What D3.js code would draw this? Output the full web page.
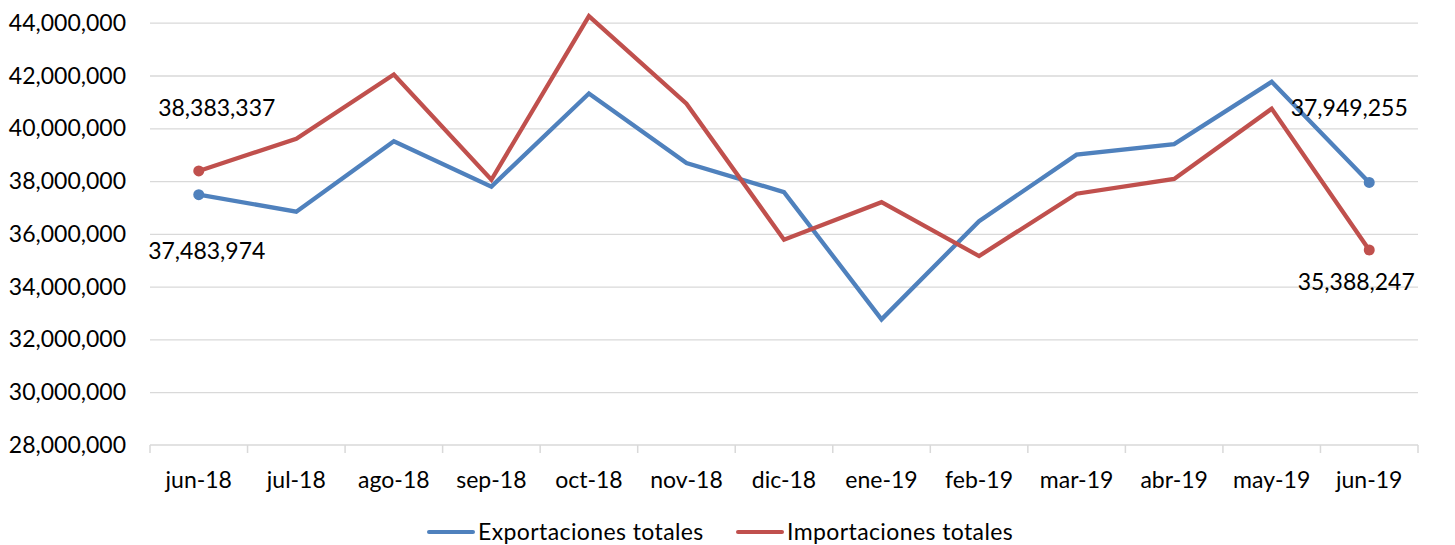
<!DOCTYPE html>
<html lang="es">
<head>
    <meta charset="utf-8">
    <title>Exportaciones e importaciones totales</title>
    <style>
        body { margin: 0; background: #fff; }
        svg text { font-family: Lato, "Open Sans", sans-serif; fill: #000; }
        .grid line { stroke: #d9d9d9; stroke-width: 1.3; }
        .grid .domain { display: none; }
    </style>
    <script src="https://d3js.org/d3.v7.min.js"></script>
</head>
<body>
    <svg></svg>
    <script>
        // datos
        var meses = ["jun-18", "jul-18", "ago-18", "sep-18", "oct-18", "nov-18", "dic-18",
                     "ene-19", "feb-19", "mar-19", "abr-19", "may-19", "jun-19"];
        var exportaciones = [37483974, 36840000, 39510000, 37790000, 41320000, 38680000, 37580000,
                             32760000, 36480000, 39000000, 39400000, 41760000, 37949255];
        var importaciones = [38383337, 39600000, 42040000, 38050000, 44250000, 40930000, 35780000,
                             37200000, 35160000, 37520000, 38080000, 40740000, 35388247];
        var yTicks = [28000000, 30000000, 32000000, 34000000, 36000000, 38000000, 40000000, 42000000, 44000000];
        var series = [
            {name: "Exportaciones totales", values: exportaciones, color: "#4f81bd"},
            {name: "Importaciones totales", values: importaciones, color: "#c0504d"}
        ];

        var W = 1455, H = 545;
        var margin = {top: 22.7, right: 37, bottom: 100, left: 150},
            width = W - margin.left - margin.right,
            height = 445 - margin.top;

        var svg = d3.select("svg")
            .attr("width", W)
            .attr("height", H);
        var g = svg.append("g")
            .attr("transform", "translate(" + margin.left + "," + margin.top + ")");

        var x = d3.scaleBand().domain(meses).range([0, width]);
        var y = d3.scaleLinear().domain([28000000, 44000000]).range([height, 0]);
        var fmt = d3.format(",");

        // gridlines horizontales
        g.append("g")
            .attr("class", "grid")
            .call(d3.axisLeft(y).tickValues(yTicks.slice(1)).tickSize(-width).tickFormat(""))
            .selectAll(".tick text").remove();

        // etiquetas eje y
        g.append("g").selectAll("text")
            .data(yTicks)
            .enter().append("text")
            .attr("x", -24)
            .attr("y", function(d) { return y(d); })
            .attr("dy", "0.35em")
            .attr("text-anchor", "end")
            .style("font-size", "23px")
            .text(function(d) { return fmt(d); });

        // eje x
        var xAxis = g.append("g")
            .attr("transform", "translate(0," + height + ")");
        xAxis.append("line")
            .attr("x1", 0).attr("x2", width)
            .attr("stroke", "#d9d9d9").attr("stroke-width", 1.5);
        xAxis.selectAll(".tk")
            .data(meses.concat(["fin"]))
            .enter().append("line")
            .attr("x1", function(d, i) { return i * x.step(); })
            .attr("x2", function(d, i) { return i * x.step(); })
            .attr("y1", 0).attr("y2", 8)
            .attr("stroke", "#d9d9d9").attr("stroke-width", 1.5);
        xAxis.selectAll(".lbl")
            .data(meses)
            .enter().append("text")
            .attr("x", function(d) { return x(d) + x.bandwidth() / 2; })
            .attr("y", 43)
            .attr("text-anchor", "middle")
            .style("font-size", "23px")
            .text(function(d) { return d; });

        // lineas
        var line = d3.line()
            .x(function(d, i) { return x(meses[i]) + x.bandwidth() / 2; })
            .y(function(d) { return y(d); });

        series.forEach(function(s) {
            g.append("path")
                .datum(s.values)
                .attr("fill", "none")
                .attr("stroke", s.color)
                .attr("stroke-width", 4.3)
                .attr("stroke-linejoin", "miter")
                .attr("d", line);
            var last = s.values.length - 1;
            [0, last].forEach(function(i) {
                g.append("circle")
                    .attr("cx", x(meses[i]) + x.bandwidth() / 2)
                    .attr("cy", y(s.values[i]))
                    .attr("r", 5.5)
                    .attr("fill", s.color);
            });
        });

        // etiquetas de datos
        var etiquetas = [
            {i: 0, v: exportaciones[0], dx: 8, dy: 64},
            {i: 0, v: importaciones[0], dx: 18, dy: -55},
            {i: 12, v: exportaciones[12], dx: -20, dy: -66},
            {i: 12, v: importaciones[12], dx: -13, dy: 40}
        ];
        g.selectAll(".etq")
            .data(etiquetas)
            .enter().append("text")
            .attr("x", function(d) { return x(meses[d.i]) + x.bandwidth() / 2 + d.dx; })
            .attr("y", function(d) { return y(d.v) + d.dy; })
            .attr("text-anchor", "middle")
            .style("font-size", "23px")
            .text(function(d) { return fmt(d.v); });

        // leyenda
        var legend = svg.append("g");
        var lx = [429, 738];
        series.forEach(function(s, i) {
            legend.append("line")
                .attr("x1", lx[i]).attr("x2", lx[i] + 44)
                .attr("y1", 532).attr("y2", 532)
                .attr("stroke", s.color).attr("stroke-width", 4)
                .attr("stroke-linecap", "round");
            legend.append("text")
                .attr("x", lx[i] + 49)
                .attr("y", 532)
                .attr("dy", "0.35em")
                .style("font-size", "23px")
                .style("letter-spacing", "0.4px")
                .text(s.name);
        });
    </script>
</body>
</html>
